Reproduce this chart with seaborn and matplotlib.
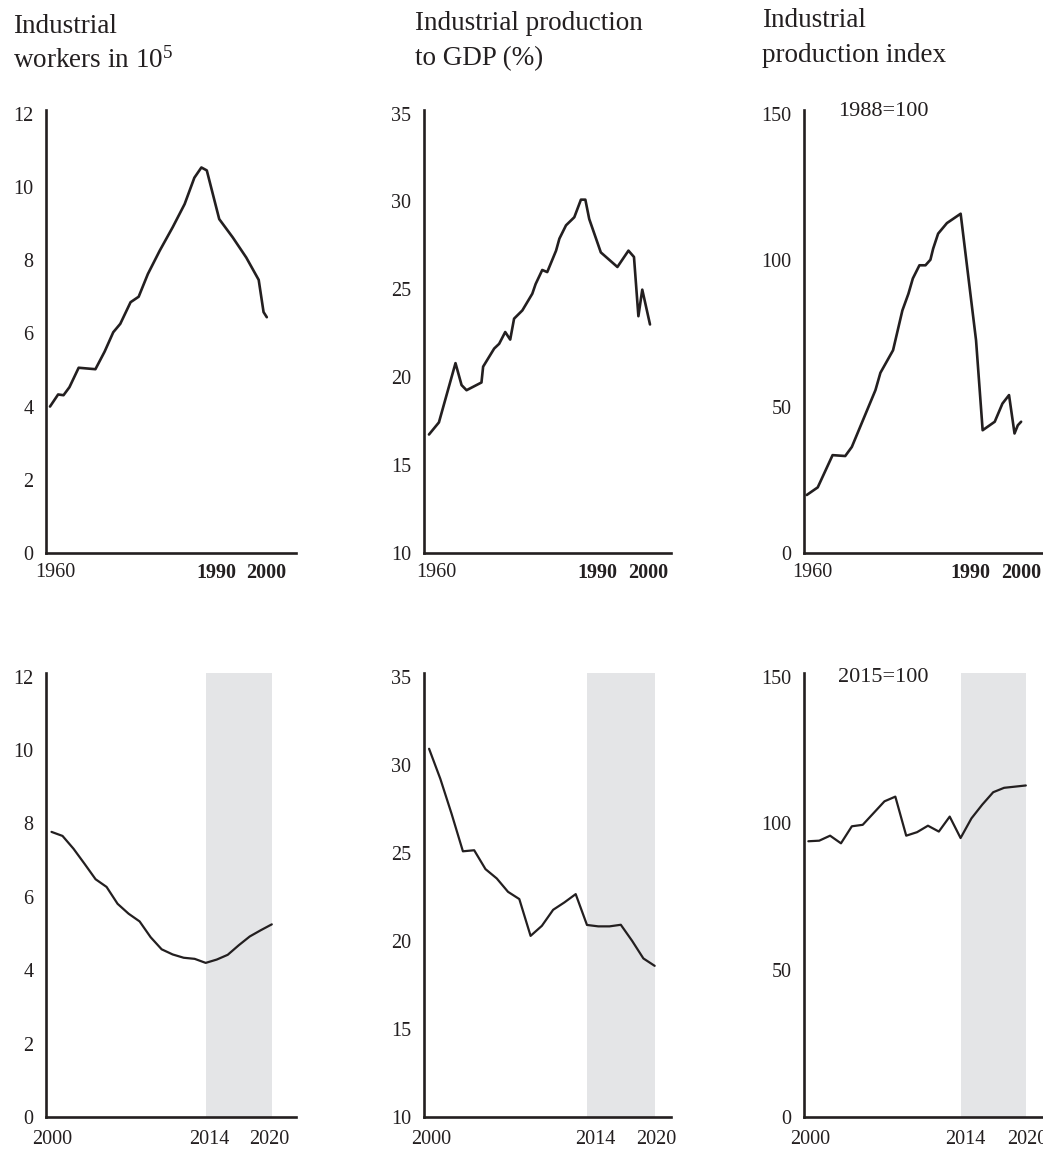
import matplotlib
matplotlib.use("Agg")
import matplotlib.pyplot as plt
import seaborn as sns

# ------------------------
# Data
# ------------------------
# top row, 1960-2000
workers_years_a = [1960.0, 1961.5, 1962.5, 1963.6, 1965.3, 1968.4, 1970.1, 1971.7, 1973.0,
                   1974.9, 1976.4, 1978.1, 1980.3, 1982.7, 1984.9, 1986.7, 1988.0, 1989.0,
                   1991.3, 1993.8, 1996.3, 1998.6, 1999.5, 2000.1]
workers_a = [4.0, 4.33, 4.31, 4.53, 5.06, 5.02, 5.5, 6.03, 6.26,
             6.85, 7.0, 7.62, 8.26, 8.9, 9.53, 10.25, 10.53, 10.45,
             9.12, 8.62, 8.07, 7.46, 6.58, 6.44]

gdp_years_a = [1960.0, 1961.8, 1964.8, 1965.9, 1966.8, 1969.5, 1969.8, 1971.8, 1972.7,
               1973.8, 1974.7, 1975.4, 1976.9, 1978.7, 1979.3, 1980.5, 1981.4, 1983.0,
               1983.6, 1984.8, 1986.3, 1987.5, 1988.3, 1989.0, 1991.1, 1994.1, 1996.1,
               1997.1, 1997.9, 1998.6, 2000.0]
gdp_a = [16.74, 17.43, 20.8, 19.55, 19.26, 19.7, 20.6, 21.63, 21.9,
         22.57, 22.14, 23.33, 23.8, 24.75, 25.3, 26.1, 25.98, 27.2,
         27.88, 28.64, 29.1, 30.1, 30.1, 29.0, 27.1, 26.27, 27.2,
         26.84, 23.47, 24.98, 23.0]

index_years_a = [1960.0, 1962.0, 1964.7, 1967.0, 1968.2, 1972.5, 1973.4, 1975.7, 1977.4,
                 1978.5, 1979.3, 1980.5, 1981.6, 1982.5, 1983.0, 1983.9, 1985.5, 1988.0,
                 1990.8, 1992.0, 1994.2, 1995.6, 1996.8, 1997.8, 1998.4, 1999.0]
index_a = [19.8, 22.4, 33.4, 33.1, 36.2, 55.6, 61.5, 69.2, 82.8,
           88.5, 93.7, 98.2, 98.2, 100.1, 103.9, 109.0, 112.6, 115.8,
           72.6, 41.9, 44.8, 51.0, 53.9, 40.8, 43.6, 44.8]

# bottom row, 2000-2020
years_b = list(range(2000, 2021))
workers_b = [7.77, 7.66, 7.31, 6.9, 6.48, 6.27, 5.81, 5.54, 5.33, 4.9, 4.57,
             4.43, 4.34, 4.31, 4.2, 4.29, 4.42, 4.68, 4.92, 5.09, 5.25]
gdp_b = [30.9, 29.19, 27.2, 25.08, 25.14, 24.07, 23.54, 22.78, 22.37, 20.28, 20.85,
         21.76, 22.18, 22.65, 20.9, 20.82, 20.82, 20.91, 20.0, 19.0, 18.58]
index_b = [93.9, 94.1, 95.8, 93.2, 99.0, 99.5, 103.5, 107.5, 109.1, 95.8, 97.0,
           99.2, 97.2, 102.3, 95.0, 101.7, 106.4, 110.6, 112.1, 112.5, 112.9]

titles = ["Industrial", "Industrial production", "Industrial"]
titles2 = [r"workers in $\mathregular{10^5}$", "to GDP (%)", "production index"]
base_notes = ["1988=100", "2015=100"]
shade_span = (2014, 2020)

top_ticks = ["1960", "1990", "2000"]
bottom_ticks = ["2000", "2014", "2020"]

# ------------------------
# Layout (pixels of a 1043x1149 canvas)
# ------------------------
W, H = 1043, 1149
INK = "#231f20"
SHADE = "#e4e5e7"

sns.set_theme(style="white")
plt.rcParams["font.family"] = ["Liberation Serif", "DejaVu Serif"]
plt.rcParams["mathtext.fontset"] = "custom"
plt.rcParams["mathtext.rm"] = "Liberation Serif"

fig = plt.figure(figsize=(W / 100, H / 100), dpi=100)

col_x = [(46, 250), (424, 247), (804, 249)]
row_y = [(110, 553), (673, 1117)]

panels = [
    # row, col, x, y, ylim, yticks, xlim, tick positions
    (0, 0, workers_years_a, workers_a, (0, 12.1), [0, 2, 4, 6, 8, 10, 12],
     (1959.26, 2005.5), [1961.0, 1990.8, 2000.0]),
    (0, 1, gdp_years_a, gdp_a, (10, 35.2), [10, 15, 20, 25, 30, 35],
     (1959.1, 2003.8), [1961.3, 1990.4, 1999.7]),
    (0, 2, index_years_a, index_a, (0, 151.2), [0, 50, 100, 150],
     (1959.5, 2004.8), [1961.0, 1989.7, 1999.1]),
    (1, 0, years_b, workers_b, (0, 12.1), [0, 2, 4, 6, 8, 10, 12],
     (1999.5, 2022.2), [2000.05, 2014.3, 2019.8]),
    (1, 1, years_b, gdp_b, (10, 35.2), [10, 15, 20, 25, 30, 35],
     (1999.55, 2021.45), [2000.2, 2014.7, 2020.1]),
    (1, 2, years_b, index_b, (0, 151.2), [0, 50, 100, 150],
     (1999.6, 2022.5), [2000.15, 2014.4, 2020.1]),
]

for row, col, xs, ys, ylim, yticks, xlim, xtick_pos in panels:
    x0, w = col_x[col]
    top, bottom = row_y[row]
    ax = fig.add_axes([x0 / W, 1 - bottom / H, w / W, (bottom - top) / H])
    if row == 1:
        ax.axvspan(shade_span[0], shade_span[1], color=SHADE, lw=0, zorder=0)
    sns.lineplot(x=xs, y=ys, ax=ax, color=INK, lw=1.9 if row == 0 else 1.6,
                 sort=False, zorder=3)
    ax.set_xlim(*xlim)
    ax.set_ylim(*ylim)
    ax.set_yticks(yticks)
    ax.set_xticks(xtick_pos)
    ax.set_xticklabels(top_ticks if row == 0 else bottom_ticks)
    ax.set_xlabel("")
    ax.set_ylabel("")
    for s in ["top", "right"]:
        ax.spines[s].set_visible(False)
    for s in ["left", "bottom"]:
        ax.spines[s].set_color(INK)
        ax.spines[s].set_linewidth(1.9)
    ax.tick_params(axis="y", length=0, pad=9, labelsize=14.5, labelcolor=INK)
    ax.tick_params(axis="x", length=0, pad=7 if row == 0 else 9, labelsize=14.5,
                   labelcolor=INK)
    if row == 0:
        for lab in ax.get_xticklabels()[1:]:
            lab.set_fontweight("bold")
    ax.set_facecolor("none")
    ax.grid(False)

# titles
title_pos = [(13, 33, 68), (415, 30, 65), (762, 27, 62)]
for (tx, b1, b2), t1, t2 in zip(title_pos, titles, titles2):
    fig.text(tx / W, 1 - b1 / H, t1, fontsize=19.5, color=INK, va="baseline")
    fig.text(tx / W, 1 - b2 / H, t2, fontsize=19.5, color=INK, va="baseline")

# base-year notes
fig.text(838 / W, 1 - 111 / H, base_notes[0], fontsize=16, color=INK, va="center")
fig.text(838 / W, 1 - 677 / H, base_notes[1], fontsize=16, color=INK, va="center")

fig.savefig("out.png", dpi=100)
